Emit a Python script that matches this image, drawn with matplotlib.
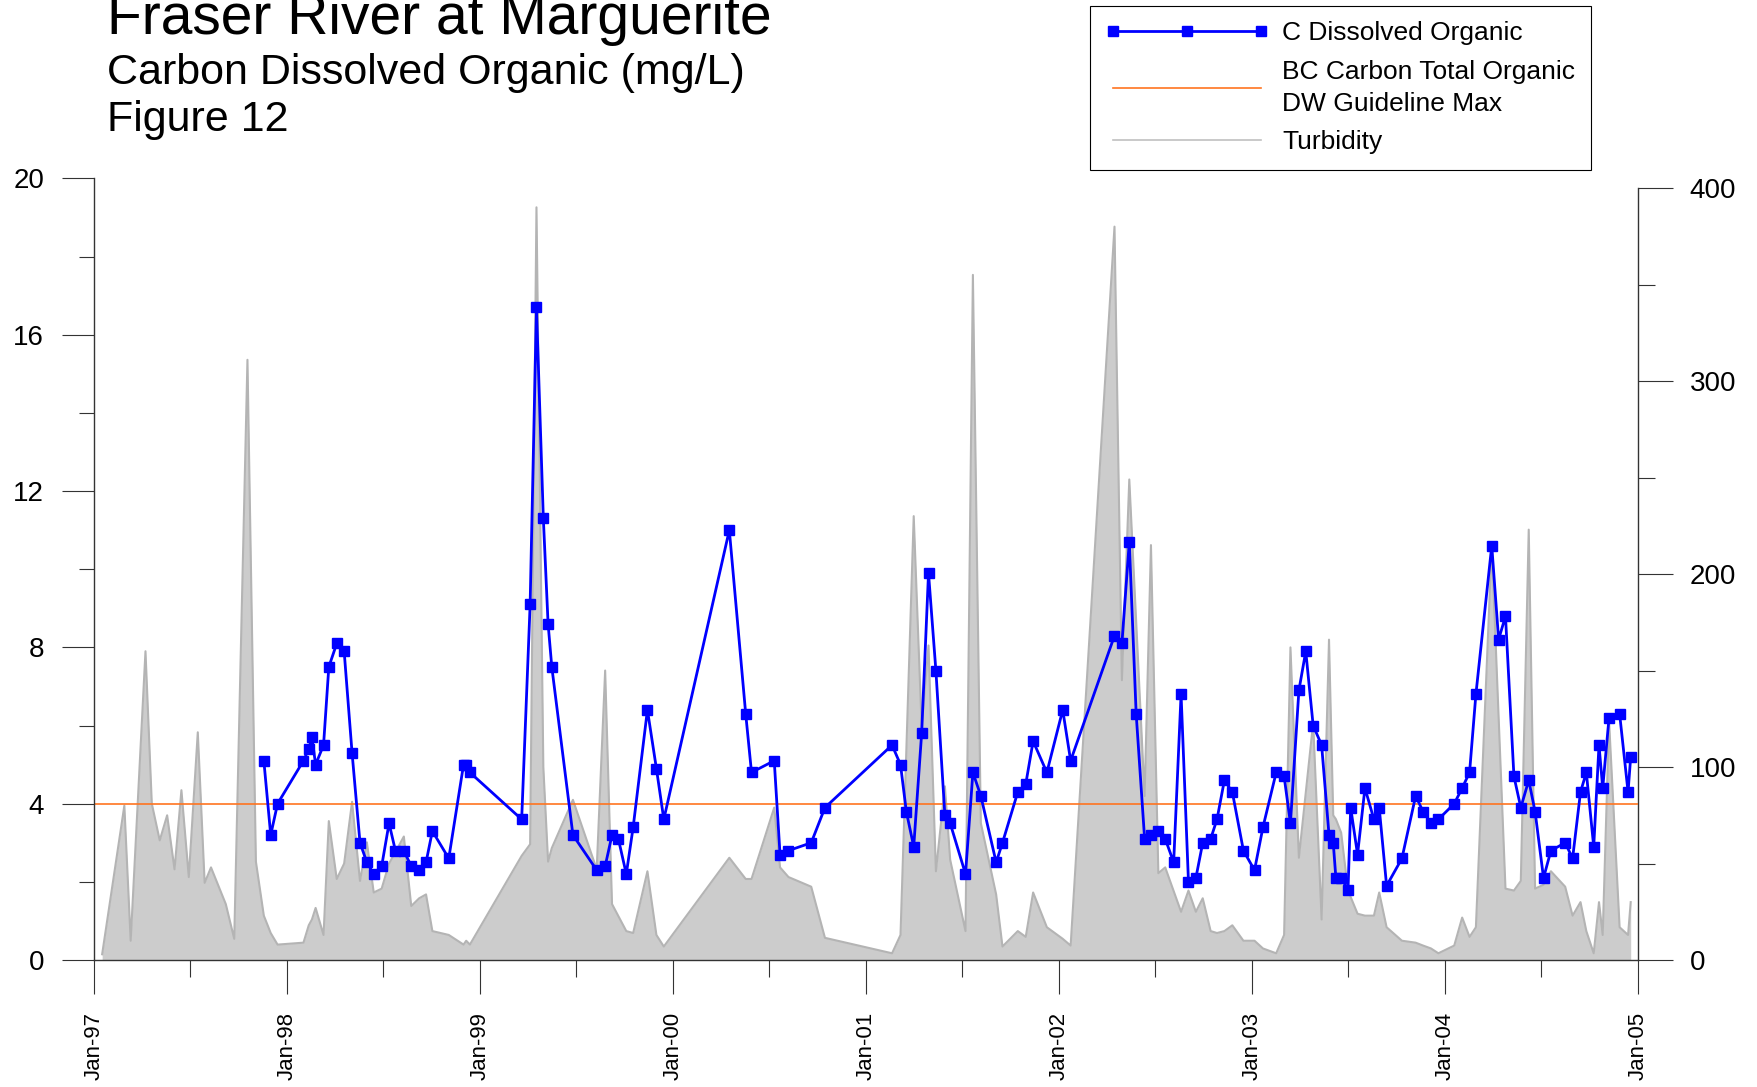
import matplotlib
matplotlib.use("Agg")
import matplotlib.pyplot as plt
import matplotlib.dates as mdates
from matplotlib.lines import Line2D
from matplotlib.ticker import MultipleLocator
import pandas as pd

plt.rcParams["font.family"] = ["Liberation Sans", "DejaVu Sans"]

# C Dissolved Organic (mg/L), left axis
DOC_DATES = [
    "1997-11-18", "1997-12-01", "1997-12-14",
    "1998-02-01", "1998-02-11", "1998-02-17", "1998-02-24", "1998-03-11", "1998-03-21",
    "1998-04-05", "1998-04-19", "1998-05-04", "1998-05-19", "1998-06-01", "1998-06-14",
    "1998-06-29", "1998-07-13", "1998-07-25", "1998-08-10", "1998-08-24", "1998-09-08",
    "1998-09-21", "1998-10-03", "1998-11-03", "1998-12-01", "1998-12-06", "1998-12-13",
    "1999-03-21", "1999-04-06", "1999-04-18", "1999-05-01", "1999-05-10", "1999-05-17",
    "1999-06-26", "1999-08-10", "1999-08-26", "1999-09-08", "1999-09-20", "1999-10-05",
    "1999-10-18", "1999-11-14", "1999-12-01", "1999-12-15",
    "2000-04-17", "2000-05-18", "2000-05-29", "2000-07-11", "2000-07-22", "2000-08-07",
    "2000-09-19", "2000-10-15",
    "2001-02-19", "2001-03-07", "2001-03-18", "2001-04-01", "2001-04-16", "2001-04-29",
    "2001-05-13", "2001-05-30", "2001-06-09", "2001-07-08", "2001-07-22", "2001-08-06",
    "2001-09-04", "2001-09-16", "2001-10-15", "2001-10-30", "2001-11-13", "2001-12-09",
    "2002-01-08", "2002-01-23", "2002-04-16", "2002-04-30", "2002-05-14", "2002-05-27",
    "2002-06-12", "2002-06-24", "2002-07-08", "2002-07-21", "2002-08-06", "2002-08-20",
    "2002-09-03", "2002-09-17", "2002-09-30", "2002-10-15", "2002-10-27", "2002-11-10",
    "2002-11-25", "2002-12-16",
    "2003-01-06", "2003-01-22", "2003-02-16", "2003-03-03", "2003-03-15", "2003-03-31",
    "2003-04-13", "2003-04-27", "2003-05-13", "2003-05-27", "2003-06-04", "2003-06-09",
    "2003-06-19", "2003-07-02", "2003-07-07", "2003-07-20", "2003-08-03", "2003-08-20",
    "2003-08-30", "2003-09-13", "2003-10-12", "2003-11-07", "2003-11-21", "2003-12-06",
    "2003-12-20",
    "2004-01-19", "2004-02-03", "2004-02-17", "2004-02-29", "2004-03-30", "2004-04-12",
    "2004-04-25", "2004-05-11", "2004-05-24", "2004-06-08", "2004-06-20", "2004-07-06",
    "2004-07-20", "2004-08-16", "2004-08-30", "2004-09-14", "2004-09-25", "2004-10-09",
    "2004-10-19", "2004-10-26", "2004-11-07", "2004-11-27", "2004-12-13", "2004-12-18",
]
DOC_VALUES = [
    5.1, 3.2, 4.0,
    5.1, 5.4, 5.7, 5.0, 5.5, 7.5, 8.1, 7.9, 5.3, 3.0, 2.5, 2.2, 2.4, 3.5, 2.8, 2.8,
    2.4, 2.3, 2.5, 3.3, 2.6, 5.0, 5.0, 4.8,
    3.6, 9.1, 16.7, 11.3, 8.6, 7.5, 3.2, 2.3, 2.4, 3.2, 3.1, 2.2, 3.4, 6.4, 4.9, 3.6,
    11.0, 6.3, 4.8, 5.1, 2.7, 2.8, 3.0, 3.9,
    5.5, 5.0, 3.8, 2.9, 5.8, 9.9, 7.4, 3.7, 3.5, 2.2, 4.8, 4.2, 2.5, 3.0, 4.3, 4.5,
    5.6, 4.8,
    6.4, 5.1, 8.3, 8.1, 10.7, 6.3, 3.1, 3.2, 3.3, 3.1, 2.5, 6.8, 2.0, 2.1, 3.0, 3.1,
    3.6, 4.6, 4.3, 2.8,
    2.3, 3.4, 4.8, 4.7, 3.5, 6.9, 7.9, 6.0, 5.5, 3.2, 3.0, 2.1, 2.1, 1.8, 3.9, 2.7,
    4.4, 3.6, 3.9, 1.9, 2.6, 4.2, 3.8, 3.5, 3.6,
    4.0, 4.4, 4.8, 6.8, 10.6, 8.2, 8.8, 4.7, 3.9, 4.6, 3.8, 2.1, 2.8, 3.0, 2.6, 4.3,
    4.8, 2.9, 5.5, 4.4, 6.2, 6.3, 4.3, 5.2,
]

# Turbidity, right axis
TURB_DATES = [
    "1997-01-16", "1997-02-27", "1997-03-11", "1997-04-08", "1997-04-20", "1997-05-05",
    "1997-05-19", "1997-06-02", "1997-06-15", "1997-06-29", "1997-07-16", "1997-07-29",
    "1997-08-10", "1997-09-07", "1997-09-23", "1997-10-18", "1997-11-03", "1997-11-18",
    "1997-12-01", "1997-12-14",
    "1998-02-01", "1998-02-11", "1998-02-17", "1998-02-24", "1998-03-11", "1998-03-21",
    "1998-04-05", "1998-04-19", "1998-05-04", "1998-05-19", "1998-06-01", "1998-06-14",
    "1998-06-29", "1998-07-13", "1998-07-25", "1998-08-10", "1998-08-24", "1998-09-08",
    "1998-09-21", "1998-10-03", "1998-11-03", "1998-12-01", "1998-12-06", "1998-12-13",
    "1999-03-21", "1999-04-06", "1999-04-18", "1999-05-01", "1999-05-10", "1999-05-17",
    "1999-06-26", "1999-08-10", "1999-08-26", "1999-09-08", "1999-10-05", "1999-10-18",
    "1999-11-14", "1999-12-01", "1999-12-15",
    "2000-04-17", "2000-05-18", "2000-05-29", "2000-07-11", "2000-07-22", "2000-08-07",
    "2000-09-19", "2000-10-15",
    "2001-02-19", "2001-03-07", "2001-04-01", "2001-04-16", "2001-04-29", "2001-05-13",
    "2001-05-30", "2001-06-09", "2001-07-08", "2001-07-22", "2001-08-06", "2001-09-04",
    "2001-09-16", "2001-10-15", "2001-10-30", "2001-11-13", "2001-12-09",
    "2002-01-08", "2002-01-23", "2002-04-16", "2002-04-30", "2002-05-14", "2002-06-12",
    "2002-06-24", "2002-07-08", "2002-07-21", "2002-08-20", "2002-09-03", "2002-09-17",
    "2002-09-30", "2002-10-15", "2002-10-27", "2002-11-10", "2002-11-25", "2002-12-16",
    "2003-01-06", "2003-01-22", "2003-02-16", "2003-03-03", "2003-03-15", "2003-03-31",
    "2003-04-27", "2003-05-13", "2003-05-27", "2003-06-04", "2003-06-09", "2003-06-19",
    "2003-07-02", "2003-07-20", "2003-08-03", "2003-08-20", "2003-08-30", "2003-09-13",
    "2003-10-12", "2003-11-07", "2003-11-21", "2003-12-06", "2003-12-20",
    "2004-01-19", "2004-02-03", "2004-02-17", "2004-02-29", "2004-03-30", "2004-04-25",
    "2004-05-11", "2004-05-24", "2004-06-08", "2004-06-20", "2004-07-06", "2004-07-20",
    "2004-08-16", "2004-08-30", "2004-09-14", "2004-09-25", "2004-10-09", "2004-10-19",
    "2004-10-26", "2004-11-07", "2004-11-27", "2004-12-13", "2004-12-18",
]
TURB_VALUES = [
    3, 80, 10, 160, 81, 62, 75, 47, 88, 43, 118, 40, 48, 29, 11, 311, 51, 23, 14, 8,
    9, 18, 21, 27, 13, 72, 42, 50, 82, 41, 61, 35, 37, 50, 56, 64, 28, 32, 34, 15, 13,
    8, 10, 8,
    54, 60, 390, 100, 51, 58, 83, 47, 150, 29, 15, 14, 46, 13, 7,
    53, 42, 42, 79, 48, 43, 38, 11.5,
    3.5, 13, 230, 121, 163, 46, 90, 52, 15, 355, 71, 34, 7, 15, 12, 35, 17,
    11, 7.5, 380, 145, 249, 85, 215, 45, 48, 25, 36, 25, 32, 15, 14, 15, 18, 10,
    10, 6, 3.5, 13, 162, 53, 123, 21, 166, 75, 73, 66, 36, 24, 23, 23, 35, 17, 10, 9,
    7.5, 6, 3.5,
    7.5, 22, 12, 17, 215, 37, 36, 41, 223, 37, 39, 46, 38, 23, 30, 15, 3.5, 30, 13,
    124, 17, 13, 30,
]

GUIDELINE = 4.0

BLUE = "#0000ff"
ORANGE = "#ff7420"
GRAY_FILL = "#cccccc"
GRAY_EDGE = "#b4b4b4"
AXCOL = "#333333"

fig = plt.figure(figsize=(17.58, 10.87), dpi=100)
ax = fig.add_axes([0.0536, 0.1168, 0.8782, 0.7191])
axr = ax.twinx()
ax.set_zorder(axr.get_zorder() + 1)
ax.patch.set_visible(False)

td = pd.to_datetime(TURB_DATES)
axr.fill_between(td, 0, TURB_VALUES, color=GRAY_FILL, lw=0)
axr.plot(td, TURB_VALUES, color=GRAY_EDGE, lw=1.5)

ax.axhline(GUIDELINE, color=ORANGE, lw=1.2, zorder=2)
dd = pd.to_datetime(DOC_DATES)
ax.plot(dd, DOC_VALUES, color=BLUE, lw=2.0, marker="s", ms=6.5, zorder=3)

ax.set_xlim(pd.Timestamp("1997-01-01"), pd.Timestamp("2005-01-01"))
ax.set_ylim(0, 20)
axr.set_ylim(0, 405)

ax.xaxis.set_major_locator(mdates.YearLocator())
ax.xaxis.set_minor_locator(mdates.MonthLocator(bymonth=7))
ax.xaxis.set_major_formatter(mdates.DateFormatter("%b-%y"))
ax.yaxis.set_major_locator(MultipleLocator(4))
ax.yaxis.set_minor_locator(MultipleLocator(2))
axr.yaxis.set_major_locator(MultipleLocator(100))
axr.yaxis.set_minor_locator(MultipleLocator(50))

ax.tick_params(axis="y", which="major", length=23, width=0.8, pad=13,
               labelsize=20, color=AXCOL)
ax.tick_params(axis="y", which="minor", length=11, width=0.8, color=AXCOL)
ax.tick_params(axis="x", which="major", length=24.5, width=0.8, pad=13,
               labelsize=16, labelrotation=90, color=AXCOL)
ax.tick_params(axis="x", which="minor", length=12, width=0.8, color=AXCOL)
axr.tick_params(axis="y", which="major", length=25, width=0.8, pad=12,
                labelsize=20, color=AXCOL)
axr.tick_params(axis="y", which="minor", length=12.5, width=0.8, color=AXCOL)

for s in ("top", "right"):
    ax.spines[s].set_visible(False)
for s in ("top", "left", "bottom"):
    axr.spines[s].set_visible(False)
for sp in (ax.spines["left"], ax.spines["bottom"], axr.spines["right"]):
    sp.set_color(AXCOL)
    sp.set_linewidth(1.0)
axr.spines["right"].set_bounds(0, 400)

fig.text(0.0606, 1 - 33.6 / 1087, "Fraser River at Marguerite", fontsize=41,
         va="baseline")
fig.text(0.0606, 1 - 84 / 1087, "Carbon Dissolved Organic (mg/L)", fontsize=31,
         va="baseline")
fig.text(0.0606, 1 - 131 / 1087, "Figure 12", fontsize=31, va="baseline")

handles = [
    Line2D([], [], color=BLUE, lw=2.0, marker="s", ms=6.5),
    Line2D([], [], color=ORANGE, lw=1.2),
    Line2D([], [], color="#c0c0c0", lw=1.2),
]
labels = ["C Dissolved Organic", "BC Carbon Total Organic\nDW Guideline Max",
          "Turbidity"]
leg = fig.legend(handles, labels, loc="upper right",
                 bbox_to_anchor=(1591 / 1758, 1 - 5.6 / 1087), fontsize=19,
                 frameon=True, fancybox=False, edgecolor="black", framealpha=1,
                 numpoints=3, handlelength=6.2, handletextpad=0.5, borderpad=0.6,
                 labelspacing=0.55, borderaxespad=0)
leg.get_frame().set_linewidth(0.8)
for t in leg.get_texts():
    t.set_linespacing(1.4)

fig.savefig("out.png", dpi=100)
